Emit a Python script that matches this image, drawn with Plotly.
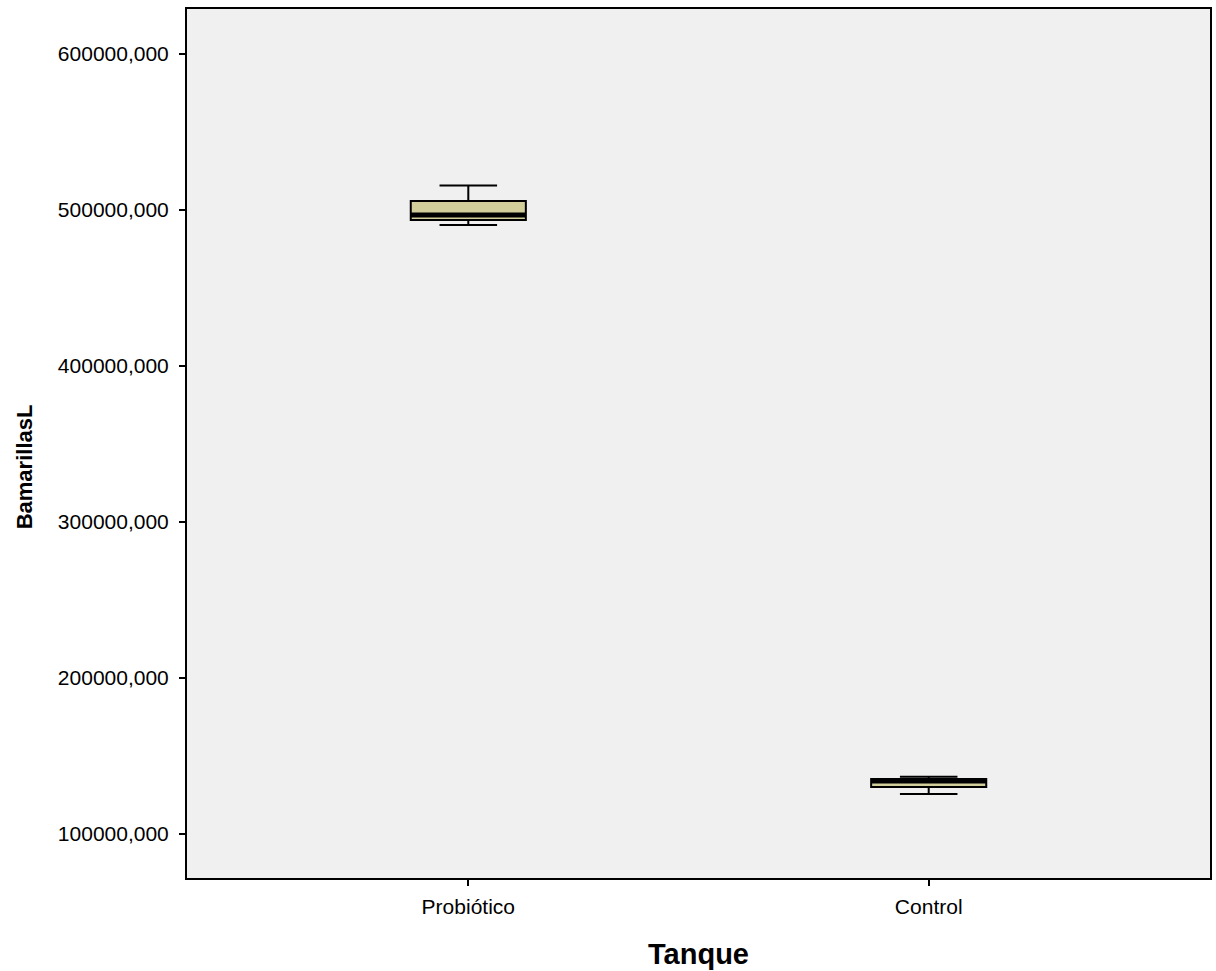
import plotly.graph_objects as go

# Box-plot summary per tank group
categories = ["Probiótico", "Control"]
lower_whisker = [490400, 125600]
q1_values = [493600, 130100]
medians = [496800, 134000]
q3_values = [505800, 135300]
upper_whisker = [515600, 136700]

y_ticks = [100000, 200000, 300000, 400000, 500000, 600000]
y_ticktext = [f"{v:.3f}".replace(".", ",") for v in y_ticks]

positions = list(range(len(categories)))
box_width = 0.25
fill_color = "#D3CF9B"

fig = go.Figure()

for i, cat in enumerate(categories):
    fig.add_trace(go.Box(
        x=[positions[i]],
        q1=[q1_values[i]],
        median=[medians[i]],
        q3=[q3_values[i]],
        lowerfence=[lower_whisker[i]],
        upperfence=[upper_whisker[i]],
        width=box_width,
        whiskerwidth=0.5,
        fillcolor=fill_color,
        line=dict(color="black", width=2),
        name=cat,
        showlegend=False,
        hoverinfo="skip",
    ))
    # heavier median stroke
    fig.add_trace(go.Scatter(
        x=[positions[i] - box_width / 2, positions[i] + box_width / 2],
        y=[medians[i], medians[i]],
        mode="lines",
        line=dict(color="black", width=5),
        showlegend=False,
        hoverinfo="skip",
    ))

fig.update_layout(
    width=1216,
    height=971,
    margin=dict(l=187, r=4, t=9, b=93),
    paper_bgcolor="white",
    plot_bgcolor="#F0F0F0",
    font=dict(family="Arial, Liberation Sans, sans-serif", size=21, color="black"),
)

# y-axis title placed as a rotated annotation
fig.add_annotation(
    text="<b>BamarillasL</b>",
    xref="paper", yref="paper",
    x=-0.158, y=0.473,
    xanchor="center", yanchor="middle",
    textangle=-90,
    showarrow=False,
    font=dict(size=22, color="black"),
)

fig.update_xaxes(
    range=[-0.611, 1.611],
    tickvals=positions,
    ticktext=categories,
    ticks="outside",
    ticklen=6,
    tickwidth=2,
    tickcolor="black",
    ticklabelstandoff=3,
    showline=True,
    linecolor="black",
    linewidth=2,
    mirror=True,
    showgrid=False,
    zeroline=False,
    tickfont=dict(size=21),
    title=dict(text="<b>Tanque</b>", font=dict(size=29), standoff=26),
)

fig.update_yaxes(
    range=[71800, 628800],
    tickvals=y_ticks,
    ticktext=y_ticktext,
    ticks="outside",
    ticklen=6,
    tickwidth=2,
    tickcolor="black",
    ticklabelstandoff=6,
    showline=True,
    linecolor="black",
    linewidth=2,
    mirror=True,
    showgrid=False,
    zeroline=False,
    tickfont=dict(size=21),
)

fig.write_html("out.html")
